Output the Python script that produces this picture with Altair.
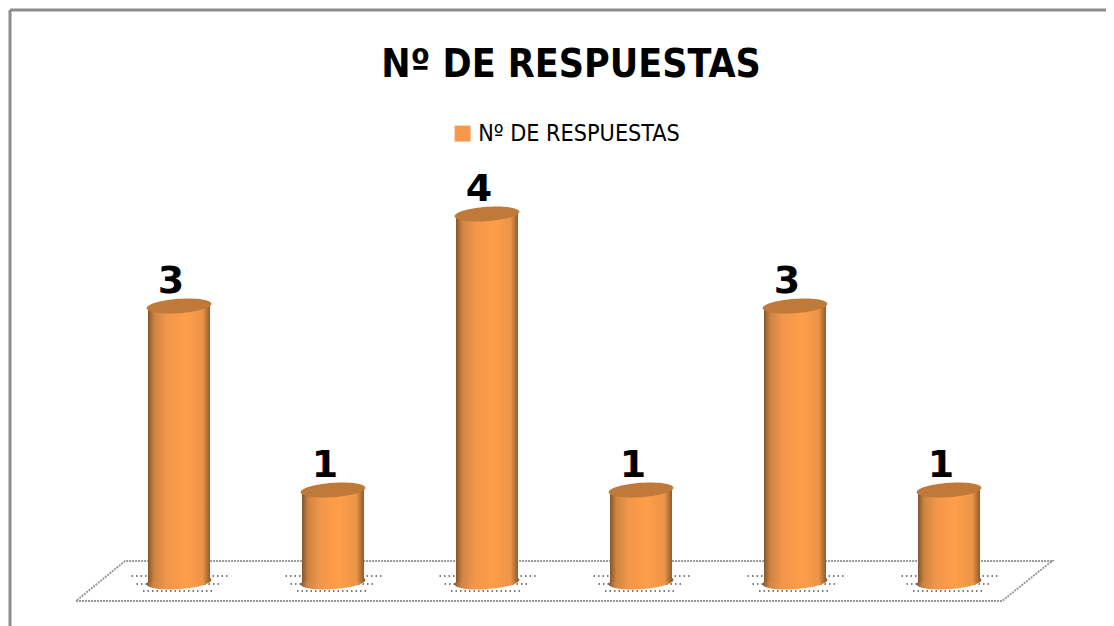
import altair as alt
import pandas as pd

categories = [1, 2, 3, 4, 5, 6]
values = [3, 1, 4, 1, 3, 1]
series_name = "Nº DE RESPUESTAS"
floor_x = [0.331, 6.344, 6.669, 0.649, 0.331]
floor_y = [-0.207, -0.207, 0.228, 0.228, -0.207]

df = pd.DataFrame({"cat": categories, "val": values, "serie": series_name, "zero": 0})
floor = pd.DataFrame({"x": floor_x, "y": floor_y, "o": range(len(floor_x))})

xscale = alt.Scale(domain=[-0.1104, 7.0195], nice=False, zero=False, padding=0)
yscale = alt.Scale(domain=[-0.478, 6.239], nice=False, zero=False, padding=0)
X = alt.X("cat:Q", axis=None, scale=xscale)
Y = alt.Y("val:Q", axis=None, scale=yscale)
Y0 = alt.Y("zero:Q", axis=None, scale=yscale)

ell = "M-1,0A1,0.22,-4,1,1,1,0A1,0.22,-4,1,1,-1,0Z"
rows = "M-0.95,-0.12H1M-0.85,0.04H0.85M-0.72,0.18H0.72"
grad = alt.Gradient(
    gradient="linear", x1=0, x2=1, y1=0, y2=0,
    stops=[
        alt.GradientStop(offset=0, color="#85552C"),
        alt.GradientStop(offset=0.1, color="#CE8442"),
        alt.GradientStop(offset=0.3, color="#F2964A"),
        alt.GradientStop(offset=0.6, color="#FF9E4A"),
        alt.GradientStop(offset=0.88, color="#EC9447"),
        alt.GradientStop(offset=1, color="#8F5C2E"),
    ],
)

fl = alt.Chart(floor).mark_line(color="#9A9A9A", strokeWidth=2, strokeDash=[2, 1]).encode(
    x=alt.X("x:Q", axis=None, scale=xscale),
    y=alt.Y("y:Q", axis=None, scale=yscale),
    order="o:Q",
)

base = alt.Chart(df)
shadow = base.mark_point(shape=rows, size=10000, filled=False, stroke="#333333", strokeWidth=1.5,
                         strokeDash=[1.5, 3], opacity=0.85).encode(x=X, y=Y0)

legend = alt.Legend(title=None, orient="none", legendX=443, legendY=114, symbolType="square", symbolSize=256,
                    symbolStrokeWidth=0, labelFont="DejaVu Sans Condensed", labelFontSize=23.2, labelColor="#000000",
                    labelLimit=400, labelOffset=4)
legend_bars = base.mark_bar(size=60).encode(
    x=X, y=Y, y2="zero:Q",
    color=alt.Color("serie:N", legend=legend, scale=alt.Scale(range=["#F9984A"])),
)
bars = base.mark_bar(size=62, color=grad).encode(x=X, y=Y, y2="zero:Q")
bottoms = base.mark_point(shape=ell, size=3844, filled=True, fill=grad, opacity=1, strokeWidth=0).encode(x=X, y=Y0)
tops = base.mark_point(shape=ell, size=3844, filled=True, fill="#BF7A3A", opacity=1, strokeWidth=0).encode(x=X, y=Y)
labels = base.mark_text(font="DejaVu Sans", fontWeight="bold", fontSize=38, dx=-8, dy=-13,
                        baseline="alphabetic", color="#000000").encode(x=X, y=Y, text="val:Q")

title = alt.Chart(pd.DataFrame({"t": [series_name]})).mark_text(
    font="DejaVu Sans Condensed", fontWeight="bold", fontSize=39, baseline="alphabetic", align="center", color="#000000"
).encode(x=alt.value(563), y=alt.value(69), text="t:N")

frame_top = alt.Chart(df.head(1)).mark_rule(color="#8C8C8C", strokeWidth=3).encode(
    x=alt.value(2), x2=alt.value(1098), y=alt.value(2))
frame_left = alt.Chart(df.head(1)).mark_rule(color="#8C8C8C", strokeWidth=3).encode(
    x=alt.value(2), y=alt.value(2), y2=alt.value(618))

chart = alt.layer(frame_top, frame_left, fl, shadow, legend_bars, bottoms, bars, tops, labels, title).properties(
    width=1098, height=618, padding=0, autosize=alt.AutoSizeParams(type="none"),
    background="#FFFFFF",
).configure_view(stroke=None)

chart.save("out.html", embed_options={"renderer": "svg", "actions": False})
